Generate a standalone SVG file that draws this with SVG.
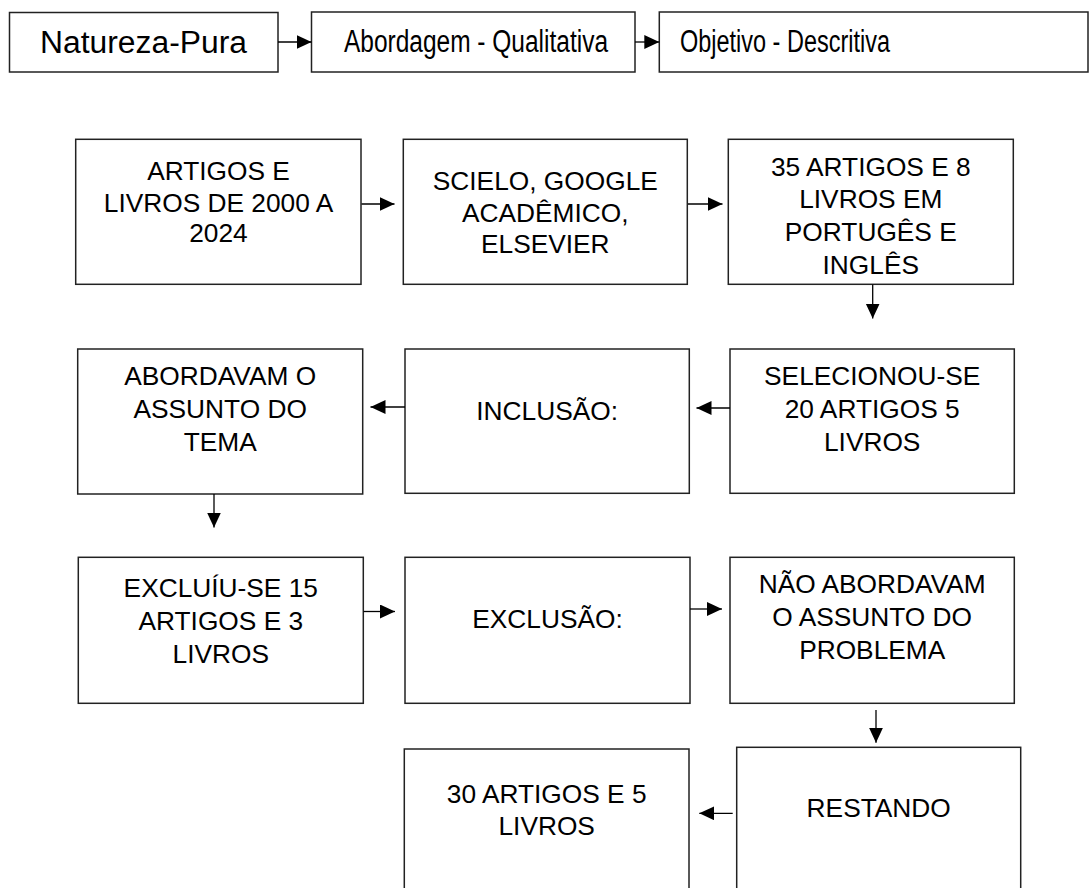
<svg xmlns="http://www.w3.org/2000/svg" width="1092" height="888" viewBox="0 0 1092 888">
<style>
  .box { fill: #ffffff; stroke: #222222; stroke-width: 1.5; }
  .t { font-family: "Liberation Sans", Arial, sans-serif; font-size: 26.3px; fill: #000000; text-anchor: middle; }
  .tt { font-family: "Liberation Sans", Arial, sans-serif; font-size: 31px; fill: #000000; }
  .conn { stroke: #000000; stroke-width: 1.3; fill: none; marker-end: url(#ah); }
</style>
<defs>
  <marker id="ah" markerUnits="userSpaceOnUse" markerWidth="16" markerHeight="16" refX="15" refY="7" orient="auto">
    <path d="M0,0 L15,7 L0,14 z" fill="#000000"/>
  </marker>
</defs>
<rect width="1092" height="888" fill="#ffffff"/>

<g id="n-natureza">
  <rect class="box" x="9.5" y="12.5" width="268.5" height="59.5"/>
  <text class="tt" x="40" y="52.5" textLength="207" lengthAdjust="spacingAndGlyphs">Natureza-Pura</text>
</g>
<g id="n-abordagem">
  <rect class="box" x="311.5" y="12" width="323.5" height="60"/>
  <text class="tt" x="344" y="52" textLength="264" lengthAdjust="spacingAndGlyphs">Abordagem - Qualitativa</text>
</g>
<g id="n-objetivo">
  <rect class="box" x="659.3" y="12" width="428.7" height="60"/>
  <text class="tt" x="680" y="52" textLength="210" lengthAdjust="spacingAndGlyphs">Objetivo - Descritiva</text>
</g>

<g id="n-artigos-livros">
  <rect class="box" x="75.7" y="139.3" width="285.3" height="145"/>
  <text class="t" x="218.5" y="180">ARTIGOS E</text>
  <text class="t" x="218.5" y="211.5">LIVROS DE 2000 A</text>
  <text class="t" x="218.5" y="242">2024</text>
</g>
<g id="n-bases">
  <rect class="box" x="403.3" y="139.3" width="284" height="145"/>
  <text class="t" x="545.3" y="190">SCIELO, GOOGLE</text>
  <text class="t" x="545.3" y="221.7">ACADÊMICO,</text>
  <text class="t" x="545.3" y="253.3">ELSEVIER</text>
</g>
<g id="n-35-artigos">
  <rect class="box" x="728.3" y="139.3" width="285" height="145"/>
  <text class="t" x="870.8" y="175.7">35 ARTIGOS E 8</text>
  <text class="t" x="870.8" y="208.3">LIVROS EM</text>
  <text class="t" x="870.8" y="241.3">PORTUGÊS E</text>
  <text class="t" x="870.8" y="274">INGLÊS</text>
</g>

<g id="n-abordavam">
  <rect class="box" x="77.7" y="349" width="285" height="145"/>
  <text class="t" x="220.2" y="385">ABORDAVAM O</text>
  <text class="t" x="220.2" y="418">ASSUNTO DO</text>
  <text class="t" x="220.2" y="451">TEMA</text>
</g>
<g id="n-inclusao">
  <rect class="box" x="405" y="349" width="284.3" height="144.3"/>
  <text class="t" x="547.2" y="420">INCLUSÃO:</text>
</g>
<g id="n-selecionou">
  <rect class="box" x="730" y="349" width="284.3" height="144.3"/>
  <text class="t" x="872.2" y="385">SELECIONOU-SE</text>
  <text class="t" x="872.2" y="417.5">20 ARTIGOS 5</text>
  <text class="t" x="872.2" y="450.5">LIVROS</text>
</g>

<g id="n-excluiu">
  <rect class="box" x="78.3" y="557.3" width="285" height="146"/>
  <text class="t" x="220.8" y="597">EXCLUÍU-SE 15</text>
  <text class="t" x="220.8" y="630">ARTIGOS E 3</text>
  <text class="t" x="220.8" y="663">LIVROS</text>
</g>
<g id="n-exclusao">
  <rect class="box" x="405" y="557.3" width="285" height="146"/>
  <text class="t" x="547.5" y="628">EXCLUSÃO:</text>
</g>
<g id="n-nao-abordavam">
  <rect class="box" x="730" y="557.3" width="284.3" height="146"/>
  <text class="t" x="872.2" y="593">NÃO ABORDAVAM</text>
  <text class="t" x="872.2" y="626">O ASSUNTO DO</text>
  <text class="t" x="872.2" y="659">PROBLEMA</text>
</g>

<g id="n-restando">
  <rect class="box" x="736.7" y="747.3" width="284" height="150"/>
  <text class="t" x="878.7" y="817">RESTANDO</text>
</g>
<g id="n-30-artigos">
  <rect class="box" x="404.3" y="749" width="284.7" height="150"/>
  <text class="t" x="546.7" y="802.7">30 ARTIGOS E 5</text>
  <text class="t" x="546.7" y="835">LIVROS</text>
</g>

<g id="connectors">
  <line class="conn" x1="278" y1="42" x2="311.5" y2="42"/>
  <line class="conn" x1="635" y1="42" x2="659.3" y2="42"/>
  <line class="conn" x1="361.5" y1="204" x2="394.5" y2="204"/>
  <line class="conn" x1="688" y1="204" x2="722.5" y2="204"/>
  <line class="conn" x1="872.7" y1="284.5" x2="872.7" y2="318.5"/>
  <line class="conn" x1="730" y1="408" x2="696.5" y2="408"/>
  <line class="conn" x1="405" y1="407" x2="370.5" y2="407"/>
  <line class="conn" x1="214" y1="494" x2="214" y2="527.5"/>
  <line class="conn" x1="363.5" y1="611.5" x2="395" y2="611.5"/>
  <line class="conn" x1="690" y1="609" x2="722" y2="609"/>
  <line class="conn" x1="876" y1="710" x2="876" y2="742.7"/>
  <line class="conn" x1="732.7" y1="813.3" x2="699.3" y2="813.3"/>
</g>
</svg>
